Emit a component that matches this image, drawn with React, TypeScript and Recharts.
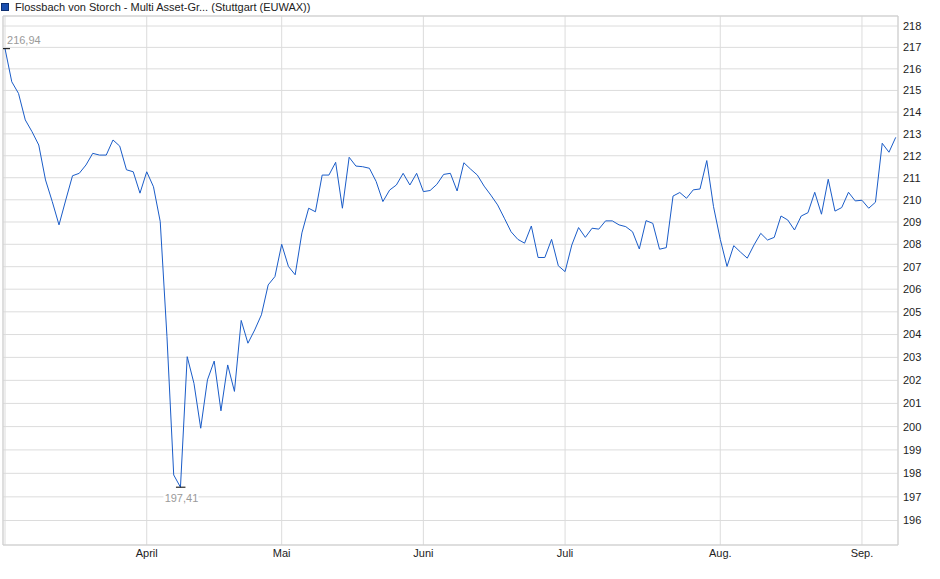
import React from "react";
import { LineChart, Line, XAxis, YAxis, CartesianGrid, ReferenceLine } from "recharts";

const title = "Flossbach von Storch - Multi Asset-Gr... (Stuttgart (EUWAX))";

const prices: number[] = [
  216.94, 215.4, 214.86, 213.64, 213.1, 212.49, 210.9, 209.92, 208.87, 209.99,
  211.09, 211.2, 211.58, 212.11, 212.03, 212.03, 212.72, 212.44, 211.36, 211.27,
  210.3, 211.27, 210.59, 209.02, 203.91, 197.93, 197.41, 203.03, 201.87, 199.93,
  202.02, 202.84, 200.68, 202.67, 201.52, 204.62, 203.62, 204.2, 204.87, 206.19,
  206.56, 208.0, 207.01, 206.64, 208.51, 209.62, 209.46, 211.12, 211.12, 211.7,
  209.62, 211.93, 211.53, 211.5, 211.43, 210.83, 209.92, 210.44, 210.67, 211.2,
  210.67, 211.2, 210.37, 210.42, 210.7, 211.15, 211.2, 210.4, 211.68, 211.39,
  211.12, 210.62, 210.21, 209.77, 209.17, 208.56, 208.22, 208.05, 208.82, 207.41,
  207.41, 208.22, 207.04, 206.78, 207.97, 208.75, 208.31, 208.72, 208.68, 209.05,
  209.05, 208.87, 208.79, 208.56, 207.79, 209.06, 208.94, 207.78, 207.85, 210.17,
  210.33, 210.07, 210.45, 210.49, 211.78, 209.69, 208.22, 207.01, 207.94, 207.65,
  207.38, 207.97, 208.49, 208.19, 208.31, 209.27, 209.09, 208.64, 209.27, 209.42,
  210.34, 209.35, 210.93, 209.49, 209.65, 210.34, 209.95, 209.98, 209.62, 209.89,
  212.57, 212.16, 212.84,
];

const monthTickIdx: number[] = [21, 41, 62, 83, 106, 127];
const monthLabels: string[] = ["April", "Mai", "Juni", "Juli", "Aug.", "Sep."];

const yTicks: number[] = [
  196, 197, 198, 199, 200, 201, 202, 203, 204, 205, 206, 207,
  208, 209, 210, 211, 212, 213, 214, 215, 216, 217, 218,
];

const maxLabel = "216,94";
const minLabel = "197,41";

const X_DOMAIN: [number, number] = [-0.3, 132.34];
const Y_DOMAIN: [number, number] = [194.97, 218.47];

const data = prices.map((v, i) => ({ i, v }));

const maxIdx = prices.indexOf(Math.max(...prices));
const minIdx = prices.indexOf(Math.min(...prices));

const FONT = "'Liberation Sans', Arial, sans-serif";
const GRID = "#dcdcdc";
const BORDER = "#cfcfcf";
const LINE = "#1a5cc8";

const renderDot = (props: any) => {
  const { cx, cy, index } = props;
  const key = `d-${index}`;
  if (index === maxIdx) {
    return (
      <g key={key}>
        <line x1={cx - 4} x2={cx + 5} y1={cy} y2={cy} stroke="#000" strokeWidth={1} />
        <text x={cx + 2} y={cy - 5} fontSize={11} fontFamily={FONT} fill="#9a9a9a">
          {maxLabel}
        </text>
      </g>
    );
  }
  if (index === minIdx) {
    return (
      <g key={key}>
        <rect x={cx - 17} y={cy + 6} width={35} height={12} fill="#fff" />
        <line x1={cx - 4.5} x2={cx + 5} y1={cy} y2={cy} stroke="#000" strokeWidth={1} />
        <text x={cx + 1} y={cy + 15} fontSize={11} fontFamily={FONT} fill="#9a9a9a" textAnchor="middle">
          {minLabel}
        </text>
      </g>
    );
  }
  return <g key={key} />;
};

export default function App() {
  return (
    <div style={{ position: "absolute", left: 0, top: 0, width: 940, height: 579, background: "#fff" }}>
      <div
        style={{
          position: "absolute",
          left: 1,
          top: 0,
          height: 14,
          display: "flex",
          alignItems: "center",
          fontFamily: FONT,
          fontSize: 11,
          color: "#222",
          whiteSpace: "nowrap",
        }}
      >
        <span
          style={{
            display: "inline-block",
            width: 6,
            height: 6,
            background: "#1a4fb0",
            border: "1px solid #0d2f70",
            marginRight: 6,
          }}
        />
        <span>{title}</span>
      </div>
      <LineChart
        width={940}
        height={579}
        data={data}
        margin={{ top: 16, left: 3, right: 0, bottom: 0 }}
        style={{ position: "absolute", left: 0, top: 0 }}
      >
        <CartesianGrid stroke={GRID} strokeWidth={1} />
        <XAxis
          dataKey="i"
          type="number"
          domain={X_DOMAIN}
          ticks={monthTickIdx}
          tickFormatter={(v: number) => monthLabels[monthTickIdx.indexOf(v)] ?? ""}
          allowDataOverflow
          height={34}
          tickLine={false}
          tickSize={0}
          tickMargin={4}
          axisLine={{ stroke: BORDER }}
          tick={{ fontSize: 11, fill: "#222", fontFamily: FONT }}
          interval={0}
        />
        <YAxis
          orientation="right"
          type="number"
          scale="log"
          domain={Y_DOMAIN}
          ticks={yTicks}
          allowDataOverflow
          width={42}
          tickLine={false}
          tickSize={0}
          tickMargin={5}
          axisLine={{ stroke: BORDER }}
          tick={{ fontSize: 11, fill: "#222", fontFamily: FONT, textAnchor: "start" }}
          interval={0}
        />
        <ReferenceLine x={X_DOMAIN[0]} stroke={BORDER} />
        <ReferenceLine x={0} stroke={GRID} />
        <ReferenceLine y={Y_DOMAIN[1]} stroke={BORDER} />
        <Line
          type="linear"
          dataKey="v"
          stroke={LINE}
          strokeWidth={1}
          dot={renderDot}
          activeDot={false}
          isAnimationActive={false}
        />
      </LineChart>
    </div>
  );
}
